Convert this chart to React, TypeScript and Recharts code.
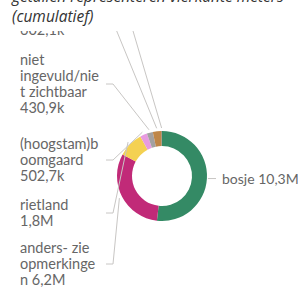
import React from 'react';
import { Cell, Pie, PieChart } from 'recharts';

const names = [
  'bosje',
  'anders- zie opmerkingen',
  'rietland',
  '(hoogstam)boomgaard',
  'niet ingevuld/niet zichtbaar',
  'overig',
  'onbekend',
];
const values = [10300000, 6200000, 1800000, 502700, 430900, 602100, 50000];
const colors = ['#348A65', '#C12A78', '#F4D152', '#E79BE0', '#A3A1A1', '#BF8648', '#8C7A64'];

// wrapped label text, as Power BI breaks it
const labelLines = [
  ['bosje 10,3M'],
  ['anders- zie', 'opmerkinge', 'n 6,2M'],
  ['rietland', '1,8M'],
  ['(hoogstam)b', 'oomgaard', '502,7k'],
  ['niet', 'ingevuld/nie', 't zichtbaar', '430,9k'],
  ['overig', '602,1k'],
  ['onbekend', '50k'],
];

// first baseline of each label block (left column)
const labelTop = [0, 253, 210, 149, 65, 19, -40];

const data = names.map((name, i) => ({ name, value: values[i] }));

const LINE_H = 16;
const labelFont = { fontFamily: 'Lato, "Segoe UI", sans-serif', fontSize: 14.5, fill: '#666' };

const renderLabel = (props: any) => {
  const { cx, cy, midAngle, outerRadius } = props;
  const index = props.index ?? names.indexOf(props.name);
  const rad = (-midAngle * Math.PI) / 180;
  const lines = labelLines[index];

  if (index === 0) {
    const y = cy + outerRadius * Math.sin(rad);
    const x = cx + outerRadius * Math.cos(rad);
    return (
      <g>
        <line x1={x + 1} y1={y} x2={216} y2={y} stroke="#C8C6C4" />
        <text x={222} y={y + 5} {...labelFont} fontSize={14}>
          {lines[0]}
        </text>
      </g>
    );
  }

  const top = labelTop[index];
  const mid = (top - 10 + top + (lines.length - 1) * LINE_H) / 2;
  const ex = cx + (outerRadius + 3) * Math.cos(rad);
  const ey = cy + (outerRadius + 3) * Math.sin(rad);
  return (
    <g>
      <polyline
        points={`106,${mid} 113,${mid} ${ex},${ey}`}
        fill="none"
        stroke="#C8C6C4"
      />
      {lines.map((t, i) => (
        <text key={i} x={20} y={top + i * LINE_H} {...labelFont}>
          {t}
        </text>
      ))}
    </g>
  );
};

const App = () => {
  return (
    <div style={{ position: 'absolute', left: 0, top: 0, width: 298, height: 287, overflow: 'hidden', background: '#fff' }}>
      <PieChart width={298} height={287} margin={{ top: 0, right: 0, bottom: 0, left: 0 }}>
        <Pie
          data={data}
          dataKey="value"
          nameKey="name"
          cx={162}
          cy={176}
          innerRadius={30}
          outerRadius={45}
          startAngle={90}
          endAngle={-270}
          stroke="none"
          label={renderLabel}
          labelLine={false}
          isAnimationActive={false}
        >
          {data.map((d, i) => (
            <Cell key={d.name} fill={colors[i]} />
          ))}
        </Pie>
      </PieChart>
      <div
        style={{
          position: 'absolute',
          left: 0,
          top: 0,
          width: 298,
          height: 31,
          background: '#fff',
          overflow: 'hidden',
        }}
      >
        <div
          style={{
            position: 'absolute',
            left: 12,
            top: -14,
            fontFamily: '"Open Sans", "Segoe UI", sans-serif',
            fontStyle: 'italic',
            fontSize: 15.5,
            lineHeight: '20px',
            color: '#333',
            whiteSpace: 'nowrap',
          }}
        >
          <div>getallen representeren vierkante meters</div>
          <div>(cumulatief)</div>
        </div>
      </div>
    </div>
  );
};

export default App;
